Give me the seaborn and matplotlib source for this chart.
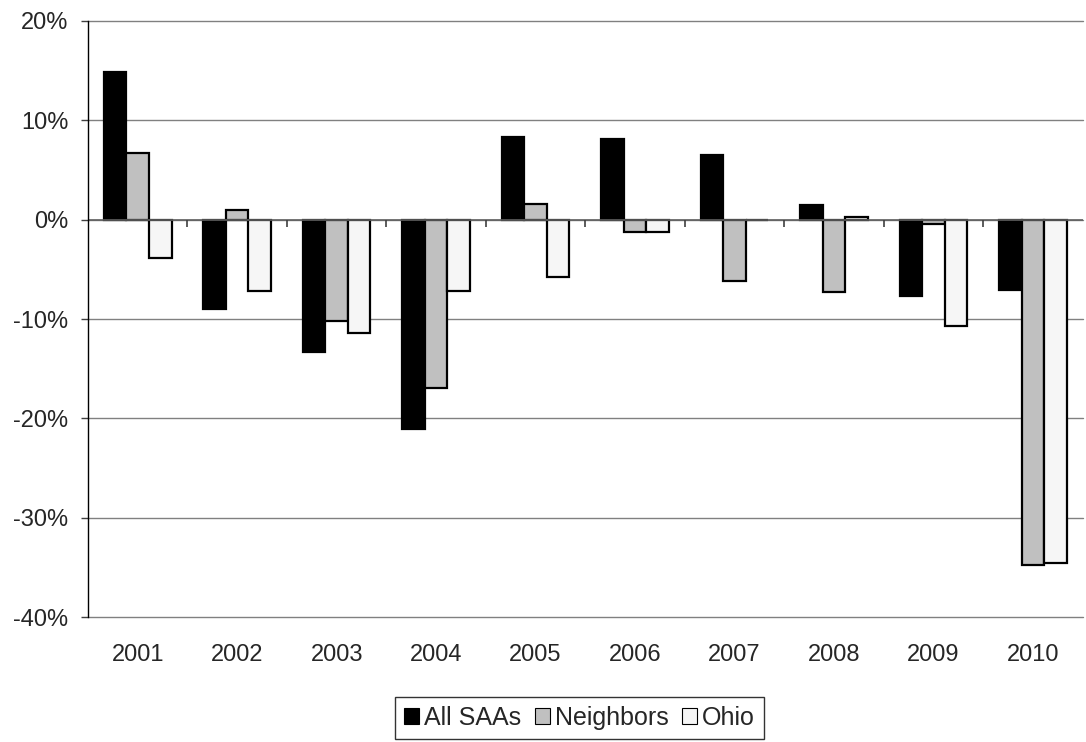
import pandas as pd
import matplotlib
matplotlib.use("Agg")
import matplotlib.pyplot as plt
import seaborn as sns
from matplotlib.ticker import FuncFormatter

# Dados (variação anual, %)
anos = ["2001", "2002", "2003", "2004", "2005", "2006", "2007", "2008", "2009", "2010"]
series = ["All SAAs", "Neighbors", "Ohio"]
all_saas = [14.8, -9.0, -13.3, -21.1, 8.3, 8.1, 6.5, 1.5, -7.7, -7.1]
neighbors = [6.7, 1.0, -10.2, -16.9, 1.6, -1.2, -6.2, -7.3, -0.4, -34.7]
ohio = [-3.9, -7.2, -11.4, -7.2, -5.8, -1.2, 0.0, 0.3, -10.7, -34.5]
cores = ["#000000", "#c0c0c0", "#f6f6f6"]

df = pd.DataFrame({
    "Ano": anos * 3,
    "Serie": [s for s in series for _ in anos],
    "Valor": all_saas + neighbors + ohio,
})

sns.set_style("white")
plt.rcParams["font.family"] = ["Liberation Sans", "DejaVu Sans"]

fig = plt.figure(figsize=(10.86, 7.42), dpi=100)
ax = fig.add_axes([0.081, 0.168, 0.916, 0.804])

sns.barplot(data=df, x="Ano", y="Valor", hue="Serie", palette=cores,
            width=0.68, edgecolor="black", linewidth=1.6, ax=ax, errorbar=None)

ax.set_ylim(-40, 20)
ax.set_xlim(-0.5, len(anos) - 0.5)
ax.set_yticks(range(-40, 21, 10))
ax.yaxis.set_major_formatter(FuncFormatter(lambda v, p: f"{int(v)}%"))
ax.yaxis.grid(True, color="#808080", linewidth=1.0, clip_on=False)
ax.set_axisbelow(True)
ax.axhline(0, color="#606060", linewidth=1.2, zorder=1)
# marcas entre categorias no eixo do zero
ax.vlines([i + 0.5 for i in range(len(anos) - 1)], -0.7, 0, color="#404040", linewidth=1.2, zorder=1)

for lado in ["top", "right", "bottom"]:
    ax.spines[lado].set_visible(False)
ax.spines["left"].set_color("black")
ax.spines["left"].set_linewidth(1.0)

ax.tick_params(axis="y", length=5, width=1, color="#404040", labelsize=17, pad=9, left=True)
ax.tick_params(axis="x", length=0, labelsize=17, pad=19)
ax.set_xlabel("")
ax.set_ylabel("")

ax.legend_.remove()
handles = [plt.Rectangle((0, 0), 1, 1, facecolor=c, edgecolor="black", linewidth=0.8) for c in cores]
leg = fig.legend(handles, series, loc="upper left", bbox_to_anchor=(0.3637, 0.0606),
                 ncol=3, fontsize=18, frameon=True, fancybox=False, handlelength=0.6,
                 handleheight=0.6, handletextpad=0.2, columnspacing=0.55, borderpad=0.35,
                 borderaxespad=0)
leg.get_frame().set_edgecolor("black")
leg.get_frame().set_linewidth(1.0)

fig.savefig("out.png", dpi=100)
